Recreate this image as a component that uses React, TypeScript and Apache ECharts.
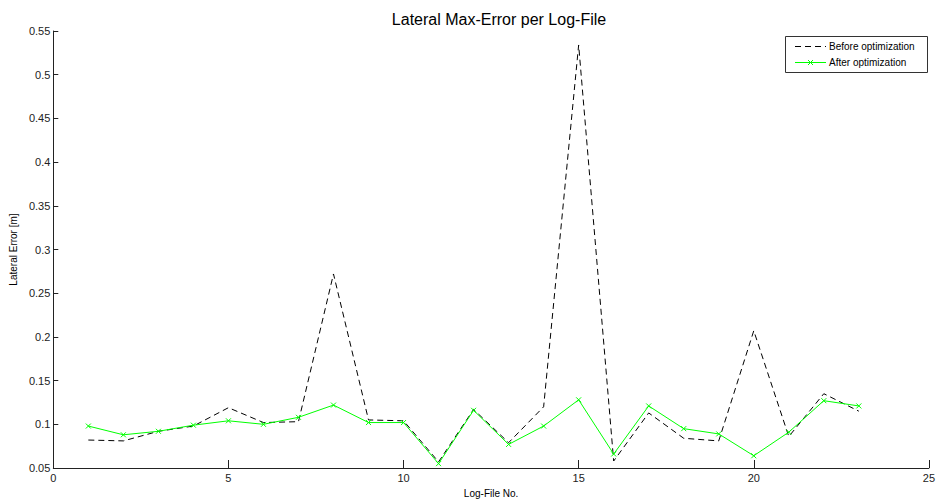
import React, { useEffect, useRef } from "react";
import * as echarts from "echarts";

const fileNo = [1,2,3,4,5,6,7,8,9,10,11,12,13,14,15,16,17,18,19,20,21,22,23];
const before = [0.082,0.081,0.092,0.098,0.119,0.102,0.103,0.272,0.105,0.104,0.057,0.117,0.079,0.120,0.534,0.058,0.113,0.084,0.081,0.207,0.086,0.135,0.115];
const after = [0.098,0.088,0.092,0.099,0.104,0.100,0.108,0.122,0.102,0.102,0.055,0.116,0.077,0.098,0.128,0.066,0.121,0.095,0.089,0.064,0.091,0.127,0.121];
const seriesNames = ["Before optimization", "After optimization"];

const font = "'Liberation Sans', Arial, sans-serif";
const xMark = "path://M0,0L10,10M10,0L0,10";

export default function App() {
  const ref = useRef<HTMLDivElement>(null);
  useEffect(() => {
    const chart = echarts.init(ref.current!, null, { renderer: "svg" });
    const lx = 785, ly = 36, lw = 142, lh = 36;
    chart.setOption({
      animation: false,
      backgroundColor: "#fff",
      textStyle: { fontFamily: font },
      title: {
        text: "Lateral Max-Error per Log-File",
        left: 494,
        textAlign: "center",
        top: 6,
        textStyle: { fontSize: 16, fontWeight: "normal", color: "#000", fontFamily: font },
      },
      grid: { left: 53, right: 3, top: 31, bottom: 31, containLabel: false },
      graphic: [
        {
          type: "group",
          z: 100,
          children: [
            { type: "rect", shape: { x: lx + 0.5, y: ly + 0.5, width: lw, height: lh }, style: { fill: "#fff", stroke: "#333", lineWidth: 1 } },
            { type: "line", shape: { x1: lx + 10, y1: ly + 10.5, x2: lx + 41, y2: ly + 10.5 }, style: { stroke: "#000", lineWidth: 1, lineDash: [6, 4] } },
            { type: "text", x: lx + 44, y: ly + 10.5, style: { text: seriesNames[0], fontSize: 10, fill: "#000", fontFamily: font, verticalAlign: "middle" } },
            { type: "line", shape: { x1: lx + 10, y1: ly + 26.5, x2: lx + 41, y2: ly + 26.5 }, style: { stroke: "#00ff00", lineWidth: 1 } },
            { type: "line", shape: { x1: lx + 23, y1: ly + 24, x2: lx + 28, y2: ly + 29 }, style: { stroke: "#00ff00", lineWidth: 1 } },
            { type: "line", shape: { x1: lx + 28, y1: ly + 24, x2: lx + 23, y2: ly + 29 }, style: { stroke: "#00ff00", lineWidth: 1 } },
            { type: "text", x: lx + 44, y: ly + 26.5, style: { text: seriesNames[1], fontSize: 10, fill: "#000", fontFamily: font, verticalAlign: "middle" } },
          ],
        },
      ],
      xAxis: {
        type: "value",
        min: 0,
        max: 25,
        interval: 5,
        name: "Log-File No.",
        nameLocation: "middle",
        nameGap: 20,
        nameTextStyle: { fontSize: 10, color: "#000", fontFamily: font },
        axisLine: { show: true, onZero: false, lineStyle: { color: "#222", width: 1 } },
        axisTick: { show: true, inside: true, length: 8, lineStyle: { color: "#222", width: 1 } },
        axisLabel: { fontSize: 11, color: "#222", margin: 4, fontFamily: font },
        splitLine: { show: false },
      },
      yAxis: {
        type: "value",
        min: 0.05,
        max: 0.55,
        interval: 0.05,
        name: "Lateral Error [m]",
        nameLocation: "middle",
        nameGap: 27,
        nameRotate: 90,
        nameTextStyle: { fontSize: 10, color: "#000", fontFamily: font },
        axisLine: { show: true, onZero: false, lineStyle: { color: "#222", width: 1 } },
        axisTick: { show: true, inside: true, length: 5, lineStyle: { color: "#222", width: 1 } },
        axisLabel: {
          fontSize: 11,
          color: "#222",
          margin: 3,
          fontFamily: font,
          formatter: (v: number) => String(parseFloat(v.toFixed(2))),
        },
        splitLine: { show: false },
      },
      series: [
        {
          name: seriesNames[0],
          type: "line",
          data: fileNo.map((x, i) => [x, before[i]]),
          symbol: "none",
          lineStyle: { color: "#000", width: 1, type: [6, 4] },
          itemStyle: { color: "#000" },
          z: 2,
        },
        {
          name: seriesNames[1],
          type: "line",
          data: fileNo.map((x, i) => [x, after[i]]),
          symbol: xMark,
          symbolSize: 5,
          showSymbol: true,
          lineStyle: { color: "#00ff00", width: 1 },
          itemStyle: { color: "none", borderColor: "#00ff00", borderWidth: 1 },
          z: 3,
        },
      ],
    });
    return () => chart.dispose();
  }, []);
  return <div ref={ref} style={{ width: 938, height: 503, position: "absolute", left: 0, top: 0 }} />;
}
